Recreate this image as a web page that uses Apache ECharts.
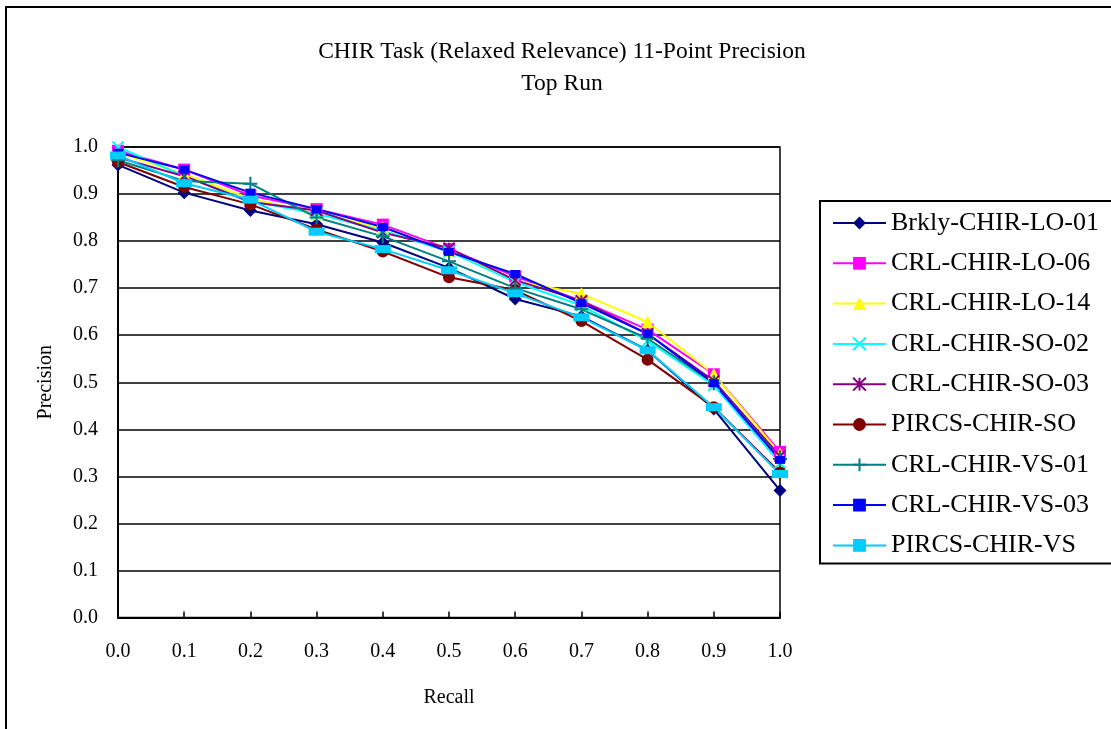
<!DOCTYPE html>
<html>
<head>
<meta charset="utf-8">
<script src="https://cdn.jsdelivr.net/npm/echarts@6/dist/echarts.min.js"></script>
<style>html,body{margin:0;background:#fff}#chart{width:1111px;height:729px}</style>
</head>
<body>
<div id="chart"></div>
<script>
// recall points (x axis)
const recall = [0.0, 0.1, 0.2, 0.3, 0.4, 0.5, 0.6, 0.7, 0.8, 0.9, 1.0];

// precision per run
const brklyLO01 = [0.962, 0.903, 0.865, 0.836, 0.797, 0.743, 0.677, 0.640, 0.568, 0.443, 0.270];
const crlLO06   = [0.992, 0.952, 0.897, 0.868, 0.835, 0.783, 0.725, 0.673, 0.612, 0.517, 0.352];
const crlLO14   = [0.988, 0.942, 0.890, 0.858, 0.828, 0.780, 0.715, 0.688, 0.628, 0.517, 0.348];
const crlSO02   = [1.000, 0.938, 0.885, 0.858, 0.822, 0.778, 0.713, 0.663, 0.588, 0.493, 0.328];
const crlSO03   = [0.978, 0.938, 0.883, 0.865, 0.818, 0.785, 0.717, 0.673, 0.603, 0.503, 0.343];
const pircsSO   = [0.968, 0.915, 0.878, 0.825, 0.778, 0.723, 0.696, 0.630, 0.548, 0.447, 0.308];
const crlVS01   = [0.972, 0.928, 0.922, 0.850, 0.810, 0.757, 0.700, 0.655, 0.593, 0.498, 0.337];
const crlVS03   = [0.988, 0.952, 0.903, 0.868, 0.830, 0.777, 0.730, 0.668, 0.603, 0.498, 0.335];
const pircsVS   = [0.982, 0.923, 0.888, 0.820, 0.783, 0.738, 0.689, 0.638, 0.568, 0.447, 0.305];

const yTicks = [0.0, 0.1, 0.2, 0.3, 0.4, 0.5, 0.6, 0.7, 0.8, 0.9, 1.0];

const FONT = '"Liberation Serif", "Times New Roman", serif';

// marker shapes
const X_PATH = 'path://M0,0L10,10M10,0L0,10';
const STAR_PATH = 'path://M0,0L10,10M10,0L0,10M5,0L5,10';
const PLUS_PATH = 'path://M5,0L5,10M0,5L10,5';

const runs = [
  { name: 'Brkly-CHIR-LO-01', data: brklyLO01, color: '#000080', symbol: 'diamond', size: 13 },
  { name: 'CRL-CHIR-LO-06', data: crlLO06, color: '#ff00ff', symbol: 'rect', size: 12 },
  { name: 'CRL-CHIR-LO-14', data: crlLO14, color: '#ffff00', symbol: 'triangle', size: 13 },
  { name: 'CRL-CHIR-SO-02', data: crlSO02, color: '#00ffff', symbol: X_PATH, size: 11, stroke: true },
  { name: 'CRL-CHIR-SO-03', data: crlSO03, color: '#800080', symbol: STAR_PATH, size: 11, stroke: true },
  { name: 'PIRCS-CHIR-SO', data: pircsSO, color: '#800000', symbol: 'circle', size: 12 },
  { name: 'CRL-CHIR-VS-01', data: crlVS01, color: '#008080', symbol: PLUS_PATH, size: 14, stroke: true },
  { name: 'CRL-CHIR-VS-03', data: crlVS03, color: '#0000ff', symbol: 'rect', size: [10, 8] },
  { name: 'PIRCS-CHIR-VS', data: pircsVS, color: '#00ccff', symbol: 'rect', size: [16, 8] }
];

const series = runs.map(r => ({
  name: r.name,
  type: 'line',
  data: recall.map((x, i) => [x, r.data[i]]),
  symbol: r.symbol,
  symbolSize: r.size,
  lineStyle: { color: r.color, width: 2 },
  itemStyle: r.stroke
    ? { color: r.color, borderColor: r.color, borderWidth: 2 }
    : { color: r.color, borderWidth: 0 },
  emphasis: { disabled: true }
}));

const chart = echarts.init(document.getElementById('chart'));
chart.setOption({
  animation: false,
  backgroundColor: '#fff',
  title: {
    text: 'CHIR Task (Relaxed Relevance) 11-Point Precision\nTop Run',
    left: 557,
    top: 31,
    textAlign: 'center',
    textStyle: { fontFamily: FONT, fontSize: 23.5, fontWeight: 'normal', color: '#000', lineHeight: 32 }
  },
  graphic: [{
    type: 'rect',
    shape: { x: 6, y: 7, width: 1200, height: 800 },
    style: { fill: 'none', stroke: '#000', lineWidth: 2 },
    silent: true
  }],
  legend: {
    orient: 'vertical',
    left: 820,
    top: 201,
    padding: [7, 40, 3, 12],
    itemWidth: 53,
    itemHeight: 16,
    itemGap: 10.3,
    borderColor: '#000',
    borderWidth: 2,
    textStyle: { fontFamily: FONT, fontSize: 26, color: '#000', lineHeight: 30 },
    data: runs.map(r => r.name)
  },
  grid: {
    left: 118, right: 331, top: 147, bottom: 111.5,
    show: true, borderColor: '#000', borderWidth: 1.5
  },
  xAxis: {
    type: 'value', min: 0, max: 1, interval: 0.1,
    name: 'Recall', nameLocation: 'middle', nameGap: 70,
    nameTextStyle: { fontFamily: FONT, fontSize: 20, color: '#000' },
    axisLine: { lineStyle: { color: '#000', width: 2 } },
    axisTick: { inside: true, length: 6, lineStyle: { color: '#000', width: 1.5 } },
    axisLabel: { margin: 24, fontFamily: FONT, fontSize: 20, color: '#000', formatter: v => v.toFixed(1) },
    splitLine: { show: false }
  },
  yAxis: {
    type: 'value', min: 0, max: 1, interval: 0.1,
    name: 'Precision', nameLocation: 'middle', nameGap: 62,
    nameTextStyle: { fontFamily: FONT, fontSize: 20, color: '#000' },
    axisLine: { show: true, lineStyle: { color: '#000', width: 2 } },
    axisTick: { show: false },
    axisLabel: {
      margin: 20, fontFamily: FONT, fontSize: 20, color: '#000',
      formatter: v => yTicks.find(t => Math.abs(t - v) < 1e-6).toFixed(1)
    },
    splitLine: { lineStyle: { color: '#000', width: 1.5 } }
  },
  series: series
});
</script>
</body>
</html>
